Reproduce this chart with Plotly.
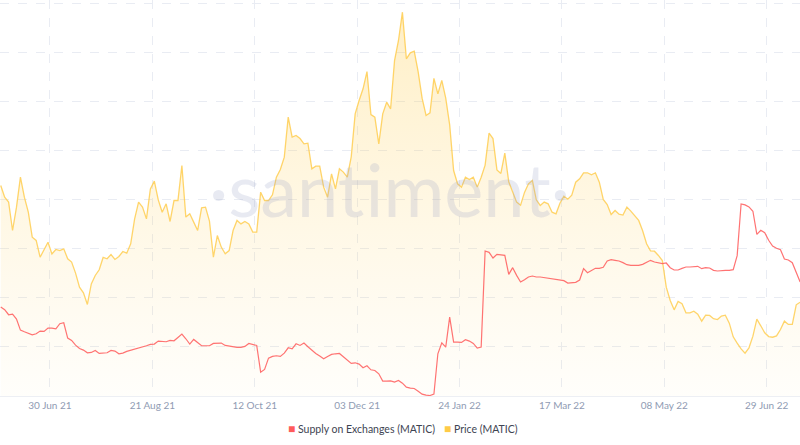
import pandas as pd
import plotly.graph_objects as go

# values, one point every 2 days from 2021-06-05
start_date = '2021-06-05'

# Price (MATIC), USD
price = [1.586, 1.498, 1.461, 1.247, 1.423, 1.649, 1.498, 1.385, 1.197, 1.172, 1.046, 1.109, 1.159, 1.071, 1.104, 1.096, 1.109,
         1.034, 1.009, 0.926, 0.820, 0.777, 0.690, 0.845, 0.908, 0.951, 1.044, 1.034, 1.066, 1.029, 1.051, 1.089, 1.076, 1.147,
         1.335, 1.461, 1.423, 1.335, 1.561, 1.619, 1.478, 1.385, 1.448, 1.315, 1.473, 1.473, 1.737, 1.348, 1.373, 1.310, 1.247,
         1.418, 1.423, 1.318, 1.046, 1.209, 1.122, 1.071, 1.096, 1.247, 1.323, 1.297, 1.315, 1.297, 1.235, 1.235, 1.536, 1.473,
         1.473, 1.516, 1.649, 1.707, 1.800, 2.101, 1.951, 1.963, 1.940, 1.900, 1.905, 1.712, 1.732, 1.732, 1.574, 1.498, 1.674,
         1.561, 1.712, 1.687, 1.649, 1.802, 2.126, 2.227, 2.315, 2.445, 2.121, 2.101, 1.900, 2.126, 2.214, 2.164, 2.528, 2.679,
         2.892, 2.541, 2.586, 2.599, 2.443, 2.244, 2.114, 2.134, 2.393, 2.277, 2.378, 2.244, 2.043, 1.699, 1.599, 1.574, 1.649,
         1.631, 1.649, 1.574, 1.649, 1.740, 1.981, 1.940, 1.704, 1.677, 1.830, 1.614, 1.536, 1.461, 1.438, 1.534, 1.599, 1.624,
         1.478, 1.436, 1.461, 1.448, 1.385, 1.373, 1.453, 1.506, 1.483, 1.513, 1.611, 1.637, 1.682, 1.682, 1.667, 1.682, 1.611,
         1.481, 1.443, 1.368, 1.398, 1.370, 1.363, 1.423, 1.393, 1.358, 1.323, 1.245, 1.147, 1.094, 1.091, 1.059, 1.021, 0.820,
         0.720, 0.649, 0.712, 0.695, 0.627, 0.627, 0.639, 0.617, 0.564, 0.609, 0.607, 0.582, 0.576, 0.602, 0.609, 0.549, 0.446,
         0.398, 0.355, 0.323, 0.363, 0.451, 0.579, 0.529, 0.476, 0.448, 0.443, 0.453, 0.501, 0.564, 0.539, 0.539, 0.687, 0.707]

# Supply on Exchanges (MATIC), million tokens (hidden axis)
supply = [1080, 1072, 1057, 1059, 1044, 1011, 1006, 1001, 997, 1000, 1008, 1007, 1017, 1017, 1015, 1030, 1033,
          987, 980, 966, 956, 951, 943, 944, 950, 941, 941, 943, 950, 948, 940, 942, 947, 950,
          954, 957, 960, 964, 968, 969, 978, 976, 976, 980, 979, 989, 999, 985, 969, 983, 974,
          964, 964, 964, 971, 972, 972, 965, 963, 960, 959, 959, 962, 971, 967, 965, 885, 893,
          927, 932, 934, 932, 942, 958, 955, 970, 965, 972, 961, 950, 941, 933, 925, 932, 938,
          940, 941, 931, 920, 911, 913, 909, 898, 904, 892, 890, 880, 858, 858, 859, 855, 860,
          852, 840, 837, 836, 828, 819, 816, 815, 819, 940, 973, 960, 1050, 975, 975, 974, 982,
          978, 971, 957, 960, 1248, 1244, 1227, 1238, 1236, 1235, 1178, 1198, 1175, 1155, 1162, 1170, 1173,
          1170, 1170, 1168, 1165, 1165, 1162, 1160, 1159, 1152, 1152, 1154, 1161, 1195, 1183, 1190, 1196, 1196,
          1199, 1218, 1222, 1220, 1218, 1213, 1207, 1205, 1205, 1205, 1208, 1215, 1220, 1215, 1212, 1210, 1212,
          1198, 1191, 1191, 1196, 1200, 1200, 1202, 1202, 1195, 1198, 1197, 1190, 1188, 1190, 1190, 1190, 1192,
          1234, 1389, 1386, 1380, 1367, 1298, 1310, 1303, 1280, 1263, 1256, 1252, 1224, 1221, 1213, 1182, 1155]

tick_dates = ['2021-06-30', '2021-08-21', '2021-10-12', '2021-12-03', '2022-01-24', '2022-03-17', '2022-05-08', '2022-06-29']
tick_labels = ['30 Jun 21', '21 Aug 21', '12 Oct 21', '03 Dec 21', '24 Jan 22', '17 Mar 22', '08 May 22', '29 Jun 22']

price_dates = pd.date_range(start_date, periods=len(price), freq='2D')
supply_dates = pd.date_range(start_date, periods=len(supply), freq='2D')

RED = '#FF5B5B'
YELLOW = '#FFCB47'
GRID = '#E9ECF3'

fig = go.Figure()
fig.add_trace(go.Scatter(x=price_dates, y=price, name='Price (MATIC)', mode='lines',
                         line=dict(color='rgba(255,203,71,0.8)', width=1.3),
                         fill='tozeroy',
                         fillgradient=dict(type='vertical', start=0, stop=3,
                                           colorscale=[[0, 'rgba(255,214,110,0.03)'],
                                                       [1, 'rgba(255,203,71,0.32)']]),
                         showlegend=False, hoverinfo='skip'))
fig.add_trace(go.Scatter(x=supply_dates, y=supply, name='Supply on Exchanges (MATIC)', mode='lines',
                         line=dict(color='rgba(255,91,91,0.85)', width=1.2),
                         yaxis='y2', showlegend=False, hoverinfo='skip'))

square = "<span style='color:%s;font-size:12px'>■</span> %s"

fig.update_layout(
    width=800, height=445,
    margin=dict(l=0, r=0, t=0, b=49),
    paper_bgcolor='white', plot_bgcolor='white',
    font=dict(family='Lato, sans-serif'),
    xaxis=dict(range=['2021-06-04 15:00', '2022-07-15 22:00'],
               tickvals=tick_dates, ticktext=tick_labels,
               tickfont=dict(size=10, color='#8F9BB3'),
               showgrid=True, gridcolor=GRID, griddash='dash', gridwidth=1,
               showline=True, linecolor='#EDEFF4', linewidth=1,
               ticks='', zeroline=False),
    yaxis=dict(range=[0, 2.984], tick0=0, dtick=0.3693, showticklabels=False,
               showgrid=True, gridcolor=GRID, griddash='dash', gridwidth=1,
               zeroline=False),
    yaxis2=dict(range=[813.5, 2000], overlaying='y', side='right', showticklabels=False,
                showgrid=False, zeroline=False),
    annotations=[
        dict(text='·santiment·', xref='paper', yref='paper', x=0.487, y=0.525,
             showarrow=False, font=dict(size=74, color='rgba(150,160,195,0.22)', family='Lato')),
        dict(text=square % (RED, 'Supply on Exchanges (MATIC)'), xref='paper', yref='paper',
             x=0.357, y=-0.081, xanchor='left', yanchor='middle', showarrow=False,
             font=dict(size=10.5, color='#3E4452')),
        dict(text=square % (YELLOW, 'Price (MATIC)'), xref='paper', yref='paper',
             x=0.553, y=-0.081, xanchor='left', yanchor='middle', showarrow=False,
             font=dict(size=10.5, color='#3E4452')),
    ],
)

# page body has an 8px default margin; drop it so the chart sits at 0,0
fig.write_html('out.html', config={'displayModeBar': False},
               post_script="document.body.style.margin='0px';")
